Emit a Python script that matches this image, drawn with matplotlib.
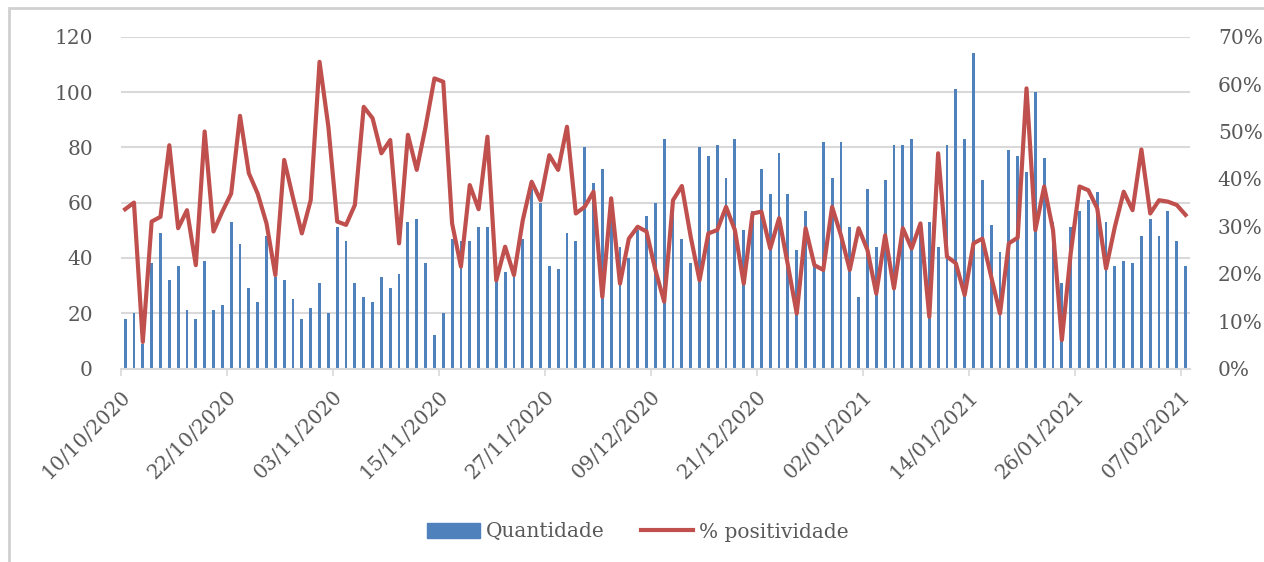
import matplotlib
matplotlib.use("Agg")
import matplotlib.pyplot as plt
from matplotlib.patches import Rectangle, Patch
from matplotlib.lines import Line2D
from matplotlib.ticker import FuncFormatter
import datetime as dt

start = dt.date(2020, 10, 10)
n_days = 121
dates = [start + dt.timedelta(days=i) for i in range(n_days)]

quantidade = [
    18, 20, 9, 38, 49, 32, 37, 21, 18, 39,
    21, 23, 53, 45, 29, 24, 48, 33, 32, 25,
    18, 22, 31, 20, 51, 46, 31, 26, 24, 33,
    29, 34, 53, 54, 38, 12, 20, 47, 46, 46,
    51, 51, 32, 35, 33, 47, 65, 60, 37, 36,
    49, 46, 80, 67, 72, 55, 44, 40, 50, 55,
    60, 83, 61, 47, 38, 80, 77, 81, 69, 83,
    50, 57, 72, 63, 78, 63, 43, 57, 37, 82,
    69, 82, 51, 26, 65, 44, 68, 81, 81, 83,
    53, 53, 44, 81, 101, 83, 114, 68, 52, 42,
    79, 77, 71, 100, 76, 53, 31, 51, 57, 61,
    64, 53, 37, 39, 38, 48, 54, 48, 57, 46,
    37,
]

positividade = [
    33.6, 35.0, 5.6, 31.0, 32.0, 47.1, 29.6, 33.4, 21.8, 50.0,
    28.9, 33.1, 36.9, 53.3, 41.2, 36.9, 30.6, 19.7, 44.0, 36.0,
    28.5, 35.5, 64.7, 51.0, 31.0, 30.3, 34.5, 55.2, 52.8, 45.4,
    48.2, 26.4, 49.3, 41.9, 51.0, 61.2, 60.5, 30.6, 21.5, 38.7,
    33.6, 48.9, 18.6, 25.7, 19.7, 31.3, 39.4, 35.5, 45.0, 41.9,
    51.0, 32.7, 34.1, 37.3, 15.1, 35.9, 17.9, 27.4, 29.9, 28.9,
    20.8, 14.1, 35.5, 38.5, 27.8, 18.6, 28.5, 29.2, 34.1, 29.2,
    17.9, 32.7, 33.1, 25.3, 31.7, 21.8, 11.6, 29.6, 21.8, 20.8,
    34.1, 28.1, 20.8, 29.6, 25.0, 15.8, 28.1, 16.9, 29.6, 25.3,
    30.6, 10.9, 45.4, 23.6, 22.2, 15.5, 26.4, 27.4, 19.4, 11.6,
    26.4, 27.6, 59.1, 29.2, 38.4, 29.2, 6.0, 24.3, 38.4, 37.6,
    33.8, 21.1, 29.9, 37.3, 33.4, 46.2, 32.7, 35.5, 35.2, 34.5,
    32.4,
]

tick_step = 12
left_ticks = [0, 20, 40, 60, 80, 100, 120]
right_ticks = [0, 10, 20, 30, 40, 50, 60, 70]

blue = "#4F81BD"
red = "#C0504D"
grey_txt = "#595959"
grid_c = "#D9D9D9"
font = ["DejaVu Serif"]
fs = 14.5

plt.rcParams["font.family"] = font

fig = plt.figure(figsize=(12.64, 5.62), dpi=100)
ax = fig.add_axes([120.7 / 1264, 1 - 368.5 / 562, (1190 - 120.7) / 1264, (368.5 - 36.7) / 562])

x = list(range(n_days))
ax.bar(x, quantidade, width=0.32, color=blue, zorder=2)
ax.set_xlim(-0.5, n_days - 0.5)
ax.set_ylim(0, 120)
ax.set_yticks(left_ticks)
ax.yaxis.grid(True, color=grid_c, linewidth=1.5, zorder=0)
ax.set_axisbelow(True)
for s in ["top", "right", "left"]:
    ax.spines[s].set_visible(False)
ax.spines["bottom"].set_color(grid_c)
ax.spines["bottom"].set_linewidth(1.5)
ax.tick_params(axis="y", length=0, pad=20, labelsize=fs, colors=grey_txt)

tick_idx = list(range(0, n_days, tick_step))
ax.set_xticks([i - 0.5 for i in tick_idx])
ax.set_xticklabels([dates[i].strftime("%d/%m/%Y") for i in tick_idx],
                   rotation=45, ha="right", rotation_mode="anchor")
ax.tick_params(axis="x", length=5, width=1.2, color=grid_c, labelsize=fs,
               labelcolor=grey_txt, pad=8)

ax2 = ax.twinx()
ax2.plot(x, positividade, color=red, linewidth=3.0, zorder=3, solid_joinstyle="round")
ax2.set_ylim(0, 70)
ax2.set_yticks(right_ticks)
ax2.yaxis.set_major_formatter(FuncFormatter(lambda v, p: f"{int(v)}%"))
for s in ["top", "right", "left", "bottom"]:
    ax2.spines[s].set_visible(False)
ax2.tick_params(axis="y", length=0, pad=20, labelsize=fs, colors=grey_txt)

handles = [Patch(facecolor=blue, edgecolor=blue),
           Line2D([0], [0], color=red, linewidth=3.0)]
fig.legend(handles, ["Quantidade", "% positividade"], loc="center",
           bbox_to_anchor=(638 / 1264, 1 - 532 / 562), ncol=2, frameon=False,
           fontsize=fs, labelcolor=grey_txt, handlelength=2.6, handleheight=0.8,
           columnspacing=1.8, handletextpad=0.3)

fig.patches.append(Rectangle((9 / 1264, -0.05), 1.1, 1 - 8 / 562 + 0.05,
                             transform=fig.transFigure, fill=False,
                             edgecolor="#D0D0D0", linewidth=2.0))

fig.savefig("out.png", dpi=100)
